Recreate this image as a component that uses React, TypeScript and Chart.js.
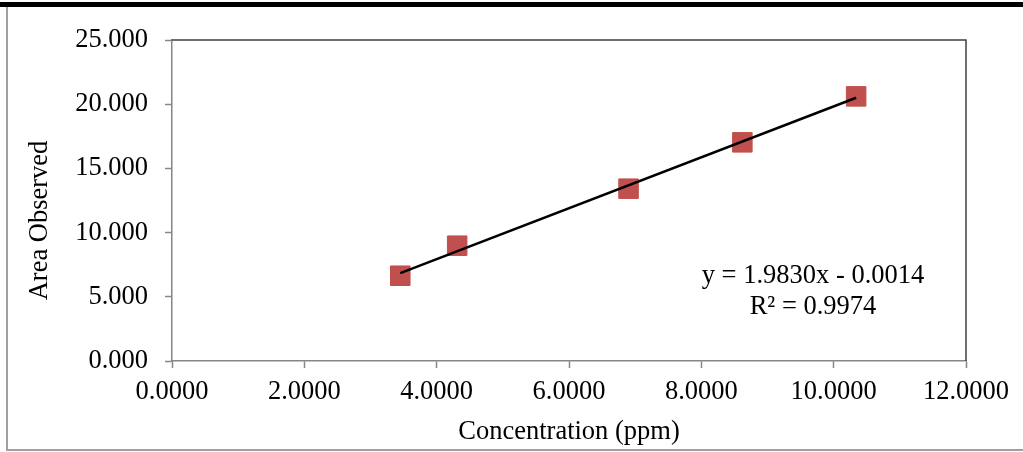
import React, { useEffect, useRef } from "react";
import { Chart, registerables } from "chart.js";

Chart.register(...registerables);

const concentration = [3.45, 4.31, 6.9, 8.62, 10.34];
const areaObserved = [6.64, 8.98, 13.42, 17.03, 20.61];
const slope = 1.983;
const intercept = -0.0014;
const equationLines = ["y = 1.9830x - 0.0014", "R² = 0.9974"];
const xTitle = "Concentration (ppm)";
const yTitle = "Area Observed";

const FONT = "'Liberation Serif', 'Times New Roman', serif";
const FS = 26.5;

export default function App() {
  const ref = useRef<HTMLCanvasElement | null>(null);

  useEffect(() => {
    if (!ref.current) return;
    const xMin = Math.min(...concentration);
    const xMax = Math.max(...concentration);
    const trend = [
      { x: xMin, y: slope * xMin + intercept },
      { x: xMax, y: slope * xMax + intercept },
    ];
    const scatter = concentration.map((x, i) => ({ x, y: areaObserved[i] }));

    const framePlugin = {
      id: "framePlugin",
      afterDatasetsDraw(chart: any) {
        const { ctx, chartArea } = chart;
        ctx.save();
        ctx.strokeStyle = "#404040";
        ctx.lineWidth = 1.5;
        ctx.beginPath();
        ctx.moveTo(chartArea.left, chartArea.top);
        ctx.lineTo(chartArea.right, chartArea.top);
        ctx.lineTo(chartArea.right, chartArea.bottom);
        ctx.stroke();
        ctx.fillStyle = "#000";
        ctx.font = `${FS}px ${FONT}`;
        ctx.textAlign = "center";
        ctx.textBaseline = "middle";
        const cx = chartArea.right - 153;
        ctx.fillText(equationLines[0], cx, chartArea.top + 236);
        ctx.fillText(equationLines[1], cx, chartArea.top + 267);
        // y-axis title
        ctx.save();
        ctx.translate(40, (chartArea.top + chartArea.bottom) / 2 + 20);
        ctx.rotate(-Math.PI / 2);
        ctx.fillText(yTitle, 0, 0);
        ctx.restore();
        ctx.restore();
      },
    };

    const chart = new Chart(ref.current, {
      type: "scatter",
      data: {
        datasets: [
          {
            type: "line",
            label: "Trend",
            data: trend,
            borderColor: "#000000",
            borderWidth: 2.5,
            pointRadius: 0,
            fill: false,
            order: 0,
          } as any,
          {
            label: "Area",
            data: scatter,
            backgroundColor: "#C0504D",
            borderColor: "#C0504D",
            pointStyle: "rect",
            pointRadius: 13.8,
            pointBorderWidth: 1,
            order: 1,
          } as any,
        ],
      },
      options: {
        animation: false,
        responsive: false,
        events: [],
        layout: { padding: { top: 40, right: 57, bottom: 0, left: 0 } },
        plugins: {
          legend: { display: false },
          tooltip: { enabled: false },
          title: { display: false },
        },
        scales: {
          x: {
            type: "linear",
            min: 0,
            max: 12,
            afterFit: (s: any) => {
              s.height = 91;
            },
            ticks: {
              stepSize: 2,
              padding: 8,
              color: "#000",
              font: { family: FONT, size: FS },
              callback: (v: any) => Number(v).toFixed(4),
            },
            grid: {
              display: true,
              drawOnChartArea: false,
              drawTicks: true,
              tickLength: 7,
              tickColor: "#868686",
              tickWidth: 1.5,
            },
            border: { display: true, color: "#868686", width: 1.5 },
            title: {
              display: true,
              text: xTitle,
              color: "#000",
              font: { family: FONT, size: FS },
              padding: { top: 0, bottom: 4 },
            },
          },
          y: {
            type: "linear",
            min: 0,
            max: 25,
            afterFit: (s: any) => {
              s.width = 172;
            },
            ticks: {
              stepSize: 5,
              padding: 17,
              color: "#000",
              font: { family: FONT, size: FS },
              callback: (v: any) => Number(v).toFixed(3),
            },
            grid: {
              display: true,
              drawOnChartArea: false,
              drawTicks: true,
              tickLength: 7,
              tickColor: "#868686",
              tickWidth: 1.5,
            },
            border: { display: true, color: "#868686", width: 1.5 },
            title: { display: false, text: yTitle },
          },
        },
      },
      plugins: [framePlugin],
    });
    return () => chart.destroy();
  }, []);

  return (
    <div
      style={{
        position: "fixed",
        left: 0,
        top: 0,
        width: 1023,
        height: 452,
        background: "#fff",
        overflow: "hidden",
      }}
    >
      <div
        style={{
          position: "absolute",
          left: 6,
          top: 5,
          width: 1040,
          height: 442,
          border: "2px solid #a0a0a0",
        }}
      />
      <div
        style={{
          position: "absolute",
          left: 0,
          top: 2,
          width: 1023,
          height: 5,
          background: "#000",
        }}
      />
      <canvas
        ref={ref}
        width={1023}
        height={452}
        style={{ position: "absolute", left: 0, top: 0 }}
      />
    </div>
  );
}
